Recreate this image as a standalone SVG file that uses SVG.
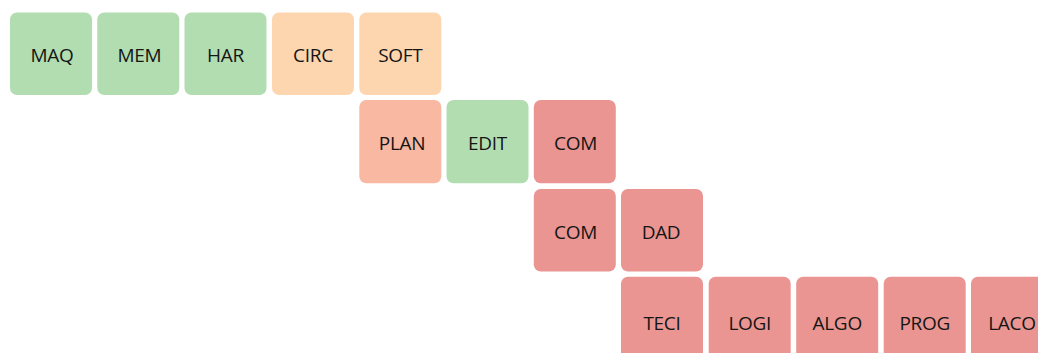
<svg xmlns="http://www.w3.org/2000/svg" width="1038" height="353" viewBox="0 0 1038 353">
<style>
rect{rx:7px;ry:7px}
.g{fill:#b2ddb1}
.o{fill:#fdd6b0}
.s{fill:#f8b8a2}
.r{fill:#ea9592}
text{font-family:"Open Sans","Liberation Sans",sans-serif;font-size:19px;font-weight:500;fill:#151515;text-anchor:middle;dominant-baseline:central;letter-spacing:-0.3px}
</style>
<rect width="1038" height="353" fill="#ffffff" style="rx:0;ry:0"/>
<g id="n-maq"><rect class="g" x="10" y="12.5" width="82" height="82.5"/><text x="52" y="54.5">MAQ</text></g>
<g id="n-mem"><rect class="g" x="97.3" y="12.5" width="82" height="82.5"/><text x="139.3" y="54.5">MEM</text></g>
<g id="n-har"><rect class="g" x="184.5" y="12.5" width="82" height="82.5"/><text x="225.5" y="54.5">HAR</text></g>
<g id="n-circ"><rect class="o" x="272" y="12.5" width="82" height="82.5"/><text x="313" y="54.5">CIRC</text></g>
<g id="n-soft"><rect class="o" x="359.3" y="12.5" width="82" height="82.5"/><text x="400.3" y="54.5">SOFT</text></g>
<g id="n-plan"><rect class="s" x="359.3" y="100" width="82" height="83.3"/><text x="402" y="143">PLAN</text></g>
<g id="n-edit"><rect class="g" x="446.5" y="100" width="82" height="83.3"/><text x="487.5" y="143">EDIT</text></g>
<g id="n-com1"><rect class="r" x="533.8" y="100" width="82" height="83.3"/><text x="575.5" y="143">COM</text></g>
<g id="n-com2"><rect class="r" x="533.8" y="189" width="82" height="82.5"/><text x="575.5" y="231.5">COM</text></g>
<g id="n-dad"><rect class="r" x="621" y="189" width="82" height="82.5"/><text x="661" y="231.5">DAD</text></g>
<g id="n-teci"><rect class="r" x="621" y="276.7" width="82" height="90"/><text x="662" y="322.5">TECI</text></g>
<g id="n-logi"><rect class="r" x="708.7" y="276.7" width="82" height="90"/><text x="749.7" y="322.5">LOGI</text></g>
<g id="n-algo"><rect class="r" x="796.2" y="276.7" width="82" height="90"/><text x="837.2" y="322.5">ALGO</text></g>
<g id="n-prog"><rect class="r" x="883.7" y="276.7" width="82" height="90"/><text x="924.7" y="322.5">PROG</text></g>
<g id="n-laco"><rect class="r" x="971" y="276.7" width="82" height="90"/><text x="1012" y="322.5">LACO</text></g>
<g id="connectors"></g>
</svg>
